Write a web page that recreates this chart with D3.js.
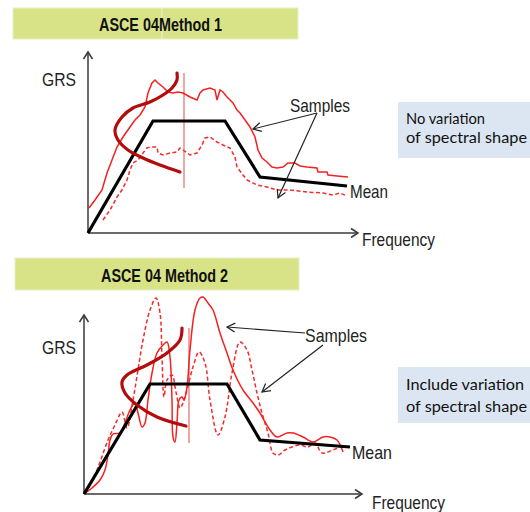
<!DOCTYPE html>
<html>
<head>
<meta charset="utf-8">
<script src="https://cdn.jsdelivr.net/npm/d3@7"></script>
<style>
  body { margin: 0; background: #fff; }
  svg { display: block; }
</style>
</head>
<body>
<svg id="chart" width="530" height="512"></svg>
<script>

// Method 1 - no variation of spectral shape
var mean1 = [[0, 0], [65, 112], [137, 112], [172, 56], [259, 47]];
var solid1 = [[1, 25], [7, 33], [14, 43], [19, 60], [24, 73], [29, 86], [35, 96], [42, 106], [47, 113],
    [52, 118], [57, 126], [60, 140], [64, 150], [67, 153], [70, 150], [75, 146], [80, 141], [85, 140],
    [90, 141], [95, 140], [102, 136], [109, 133], [112, 140], [115, 143], [122, 145], [127, 143],
    [129, 133], [132, 143], [135, 141], [139, 136], [142, 133], [145, 130], [149, 123], [152, 120],
    [157, 113], [162, 106], [167, 96], [170, 83], [174, 75], [179, 71], [184, 66], [189, 65], [195, 66],
    [200, 70], [207, 70], [212, 67], [219, 66], [229, 65], [230, 61], [239, 61], [240, 58], [249, 57], [260, 56]];
var dashed1 = [[15, 13], [22, 23], [29, 36], [34, 43], [39, 53], [42, 63], [45, 70], [50, 73], [55, 80],
    [59, 85], [62, 86], [69, 86], [70, 80], [75, 78], [82, 80], [89, 81], [92, 85], [95, 83], [102, 78],
    [109, 80], [114, 88], [117, 95], [122, 96], [129, 91], [135, 88], [142, 85], [147, 76], [149, 66],
    [155, 58], [159, 53], [169, 48], [179, 46], [189, 43], [202, 43], [219, 41], [235, 40], [245, 38],
    [252, 40], [259, 37]];
var spread1 = [[89, 160], [89, 153], [84, 145], [75, 138], [62, 131], [45, 125], [34, 116], [27, 103],
    [30, 93], [40, 83], [55, 75], [72, 68], [92, 61]];
var median1 = [[96, 45], [96, 160]];
var pointer1 = { from: [229, 120], to: [[165, 104], [190, 35]] };

// Method 2 - include variation of spectral shape
var mean2 = [[0, 0], [66, 110], [143, 110], [176, 54], [266, 47]];
var solid2 = [[0, 0], [8, 6], [16, 14], [21, 24], [24, 39], [26, 54], [29, 60], [36, 61], [41, 71],
    [46, 84], [51, 91], [54, 81], [58, 67], [61, 71], [64, 94], [68, 121], [73, 141], [79, 149],
    [83, 152], [86, 137], [88, 94], [89, 57], [91, 52], [93, 71], [95, 94], [98, 97], [100, 94],
    [103, 107], [106, 144], [111, 184], [116, 196], [119, 197], [124, 191], [129, 184], [136, 161],
    [143, 141], [149, 124], [159, 104], [169, 91], [176, 81], [181, 72], [186, 64], [193, 57],
    [203, 61], [209, 61], [219, 57], [229, 52], [239, 57], [246, 57], [253, 54], [259, 42]];
var dashed2 = [[0, 0], [8, 12], [16, 32], [24, 54], [31, 69], [38, 82], [43, 66], [49, 94], [54, 124],
    [59, 154], [66, 184], [72, 196], [76, 181], [78, 137], [80, 97], [83, 114], [88, 119], [92, 102],
    [96, 86], [99, 91], [103, 104], [109, 127], [115, 142], [121, 131], [126, 94], [134, 59], [141, 77],
    [148, 121], [156, 152], [163, 144], [168, 124], [173, 101], [178, 81], [184, 61], [189, 41],
    [194, 39], [201, 44], [208, 47], [216, 49], [224, 47], [231, 51], [238, 41], [249, 44], [258, 47], [261, 44]];
var spread2 = [[98, 166], [96, 154], [83, 141], [63, 129], [43, 119], [38, 112], [41, 101], [53, 89],
    [73, 77], [102, 68]];
var median2 = [[105, 51], [105, 166]];
var pointer2 = { from: [[221, 161], [239, 149]], to: [[143, 167], [178, 102]] };

var titles1 = ["ASCE 04", "Method 1"];
var titles2 = ["ASCE 04 ", "Method 2"];
var notes1 = ["No variation", "of spectral shape"];
var notes2 = ["Include variation", "of spectral shape"];

var svg = d3.select("#chart");
var defs = svg.append("defs");

defs.append("marker")
    .attr("id", "axisHead")
    .attr("markerUnits", "userSpaceOnUse")
    .attr("viewBox", "-10 -6 12 12")
    .attr("markerWidth", 12)
    .attr("markerHeight", 12)
    .attr("refX", 0)
    .attr("refY", 0)
    .attr("orient", "auto")
    .append("path")
    .attr("d", "M-7,-4.5L0,0L-7,4.5")
    .attr("fill", "none")
    .attr("stroke", "#3a3a3a")
    .attr("stroke-width", 1.5);

defs.append("marker")
    .attr("id", "pointHead")
    .attr("markerUnits", "userSpaceOnUse")
    .attr("viewBox", "-10 -6 12 12")
    .attr("markerWidth", 12)
    .attr("markerHeight", 12)
    .attr("refX", 0)
    .attr("refY", 0)
    .attr("orient", "auto")
    .append("path")
    .attr("d", "M-8,-4.5L0,0L-8,4.5")
    .attr("fill", "none")
    .attr("stroke", "#222")
    .attr("stroke-width", 1.2);

var narrow = "'Liberation Sans Narrow', 'Arial Narrow', 'Liberation Sans', Arial, sans-serif";
var noteFont = "Lato, 'Open Sans', sans-serif";

var panels = [
    {
        mean: mean1, solid: solid1, dashed: dashed1, spread: spread1, median: median1,
        arrowsFrom: [pointer1.from, pointer1.from], arrowsTo: pointer1.to,
        titles: titles1, notes: notes1, smooth: false,
        x0: 88, y0: 233, xMax: 270, yMax: 181,
        bars: [[13, 8, 149, 31], [162, 8, 136, 31]],
        titlePos: [99, 31, 123],
        box: [398, 102, 132, 56], noteY: [124, 143], noteLen: [79, 121],
        grs: [42, 86], samples: [290, 112, 60], meanLbl: [350, 198, 38], freq: [362, 246, 73]
    },
    {
        mean: mean2, solid: solid2, dashed: dashed2, spread: spread2, median: median2,
        arrowsFrom: pointer2.from, arrowsTo: pointer2.to,
        titles: titles2, notes: notes2, smooth: true,
        x0: 84, y0: 494, xMax: 278, yMax: 179,
        bars: [[15, 258, 284, 32]],
        titlePos: [101, 282, 127],
        box: [398, 367, 132, 56], noteY: [390, 412], noteLen: [118, 121],
        grs: [42, 354], samples: [305, 342, 62], meanLbl: [352, 459, 40], freq: [372, 509, 73]
    }
];

panels.forEach(function (p) {
    var g = svg.append("g");
    var x = d3.scaleLinear().domain([0, p.xMax]).range([p.x0, p.x0 + p.xMax]);
    var y = d3.scaleLinear().domain([0, p.yMax]).range([p.y0, p.y0 - p.yMax]);

    // title bar
    g.selectAll("rect.bar")
        .data(p.bars)
        .enter()
        .append("rect")
        .attr("class", "bar")
        .attr("x", function (d) { return d[0]; })
        .attr("y", function (d) { return d[1]; })
        .attr("width", function (d) { return d[2]; })
        .attr("height", function (d) { return d[3]; })
        .attr("fill", "#d8e388")
        .attr("stroke", "#e9efc2")
        .attr("stroke-width", 1);

    g.append("text")
        .attr("x", p.titlePos[0])
        .attr("y", p.titlePos[1])
        .attr("textLength", p.titlePos[2])
        .attr("lengthAdjust", "spacingAndGlyphs")
        .style("font-family", narrow)
        .style("font-weight", "bold")
        .style("font-size", "17.5px")
        .style("fill", "#111")
        .text(p.titles.join(""));

    // note box
    g.append("rect")
        .attr("x", p.box[0])
        .attr("y", p.box[1])
        .attr("width", p.box[2])
        .attr("height", p.box[3])
        .attr("fill", "#dce6f2");

    g.selectAll("text.note")
        .data(p.notes)
        .enter()
        .append("text")
        .attr("class", "note")
        .attr("x", 406)
        .attr("y", function (d, i) { return p.noteY[i]; })
        .attr("textLength", function (d, i) { return p.noteLen[i]; })
        .attr("lengthAdjust", "spacingAndGlyphs")
        .style("font-family", noteFont)
        .style("font-size", "16px")
        .style("fill", "#111")
        .text(function (d) { return d; });

    // axes
    g.append("line")
        .attr("x1", x(0)).attr("y1", y(0))
        .attr("x2", x(0)).attr("y2", y(p.yMax))
        .attr("stroke", "#3a3a3a")
        .attr("stroke-width", 1.5)
        .attr("marker-end", "url(#axisHead)");
    g.append("line")
        .attr("x1", x(0)).attr("y1", y(0))
        .attr("x2", x(p.xMax)).attr("y2", y(0))
        .attr("stroke", "#3a3a3a")
        .attr("stroke-width", 1.5)
        .attr("marker-end", "url(#axisHead)");

    var line = d3.line()
        .x(function (d) { return x(d[0]); })
        .y(function (d) { return y(d[1]); });
    var smoothLine = d3.line()
        .x(function (d) { return x(d[0]); })
        .y(function (d) { return y(d[1]); })
        .curve(d3.curveCatmullRom.alpha(0.5));
    var sampleLine = p.smooth ? smoothLine : line;

    // median marker (thin vertical)
    g.append("path")
        .attr("d", line(p.median))
        .attr("fill", "none")
        .attr("stroke", "#e86a6a")
        .attr("stroke-width", 1.2);

    // samples
    g.append("path")
        .attr("d", sampleLine(p.dashed))
        .attr("fill", "none")
        .attr("stroke", "#f52a2a")
        .attr("stroke-width", 1.5)
        .attr("stroke-dasharray", "4,2.5");
    g.append("path")
        .attr("d", sampleLine(p.solid))
        .attr("fill", "none")
        .attr("stroke", "#f52020")
        .attr("stroke-width", 1.5);

    // mean
    g.append("path")
        .attr("d", line(p.mean))
        .attr("fill", "none")
        .attr("stroke", "#000")
        .attr("stroke-width", 3.2)
        .attr("stroke-linejoin", "miter");

    // distribution curve
    g.append("path")
        .attr("d", smoothLine(p.spread))
        .attr("fill", "none")
        .attr("stroke", "#b30c0c")
        .attr("stroke-width", 3.2)
        .attr("stroke-linecap", "round");

    // pointer arrows from "Samples"
    g.selectAll("line.pointer")
        .data(p.arrowsTo)
        .enter()
        .append("line")
        .attr("class", "pointer")
        .attr("x1", function (d, i) { return x(p.arrowsFrom[i][0]); })
        .attr("y1", function (d, i) { return y(p.arrowsFrom[i][1]); })
        .attr("x2", function (d) { return x(d[0]); })
        .attr("y2", function (d) { return y(d[1]); })
        .attr("stroke", "#222")
        .attr("stroke-width", 1.2)
        .attr("marker-end", "url(#pointHead)");

    // labels
    var labels = [
        ["GRS", p.grs[0], p.grs[1], 34],
        ["Samples", p.samples[0], p.samples[1], p.samples[2]],
        ["Mean", p.meanLbl[0], p.meanLbl[1], p.meanLbl[2]],
        ["Frequency", p.freq[0], p.freq[1], p.freq[2]]
    ];
    g.selectAll("text.lbl")
        .data(labels)
        .enter()
        .append("text")
        .attr("class", "lbl")
        .attr("x", function (d) { return d[1]; })
        .attr("y", function (d) { return d[2]; })
        .attr("textLength", function (d) { return d[3]; })
        .attr("lengthAdjust", "spacingAndGlyphs")
        .style("font-family", narrow)
        .style("font-size", "19px")
        .style("fill", "#222")
        .text(function (d) { return d[0]; });
});
</script>
</body>
</html>
